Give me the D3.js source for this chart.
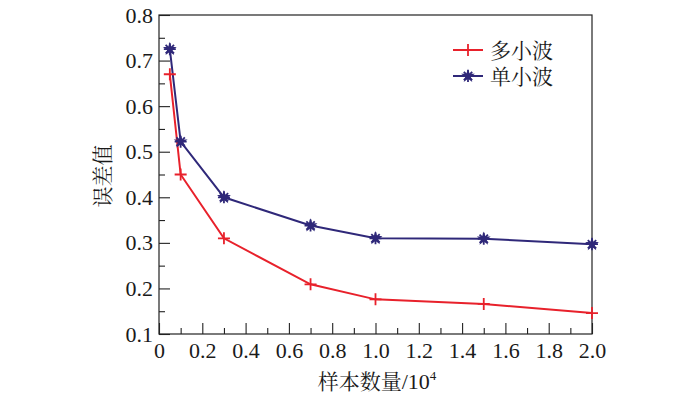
<!DOCTYPE html>
<html>
<head>
<meta charset="utf-8">
<script src="https://cdn.jsdelivr.net/npm/d3@7"></script>
<style>
	body { margin: 0; background: #fff; }
	svg { display: block; }
</style>
</head>
<body>
<figure id="chart" style="margin:0"></figure>
<script>
// values
var sampleCounts = [ 0.05, 0.1, 0.3, 0.7, 1.0, 1.5, 2.0 ]; // x, in 10^4
var multiWavelet = [ 0.670, 0.450, 0.310, 0.209, 0.176, 0.166, 0.146 ];
var singleWavelet = [ 0.725, 0.522, 0.400, 0.338, 0.310, 0.309, 0.297 ];
var seriesNames = [ "多小波", "单小波" ];
var xTicks = [ 0, 0.2, 0.4, 0.6, 0.8, 1.0, 1.2, 1.4, 1.6, 1.8, 2.0 ];
var yTicks = [ 0.1, 0.2, 0.3, 0.4, 0.5, 0.6, 0.7, 0.8 ];

var serifFont = "'Liberation Serif'";
var cjkFont = "'Noto Serif CJK SC'";

var dimensions = {
	width: 700,
	height: 396,
	margin: { top: 15, right: 108, bottom: 62, left: 159 }
};
dimensions.boundedWidth = dimensions.width - dimensions.margin.left - dimensions.margin.right
dimensions.boundedHeight = dimensions.height - dimensions.margin.top - dimensions.margin.bottom

var svgRoot = d3.select( "figure#chart" )
	.append( "svg" )
	.attr( "width", dimensions.width )
	.attr( "height", dimensions.height );

var svg = svgRoot.append( "g" )
	.attr( "transform", `translate(${dimensions.margin.left},${dimensions.margin.top})` );

var xScale = d3.scaleLinear().domain( [ 0, 2.0 ] ).range( [ 0, dimensions.boundedWidth ] );
var yScale = d3.scaleLinear().domain( [ 0.1, 0.8 ] ).range( [ dimensions.boundedHeight, 0 ] );

var colors = [ "#e8212b", "#2f2879" ];

// frame
svg.append( "rect" )
	.attr( "width", dimensions.boundedWidth )
	.attr( "height", dimensions.boundedHeight )
	.attr( "fill", "none" )
	.attr( "stroke", "#222" )
	.attr( "stroke-width", 1.2 );

// minor ticks (inward)
svg.append( "g" )
	.attr( "transform", `translate(0, ${dimensions.boundedHeight})` )
	.call( d3.axisBottom( xScale ).tickValues( d3.range( 0.1, 2.0, 0.2 ) ).tickSize( -6 ).tickFormat( "" ) )
	.call( g => g.select( ".domain" ).remove() );
svg.append( "g" )
	.call( d3.axisLeft( yScale ).tickValues( d3.range( 0.15, 0.8, 0.1 ) ).tickSize( -6 ).tickFormat( "" ) )
	.call( g => g.select( ".domain" ).remove() );

// major ticks with labels
var xAxis = svg.append( "g" )
	.attr( "transform", `translate(0, ${dimensions.boundedHeight})` )
	.call( d3.axisBottom( xScale ).tickValues( xTicks ).tickSize( -11 ).tickPadding( 5 )
		.tickFormat( d => d === 0 ? "0" : d3.format( ".1f" )( d ) ) )
	.attr( "font-family", serifFont )
	.attr( "font-size", 22 )
	.call( g => g.select( ".domain" ).remove() );
xAxis.selectAll( "text" ).attr( "dy", "0.85em" );

var yAxis = svg.append( "g" )
	.call( d3.axisLeft( yScale ).tickValues( yTicks ).tickSize( -11 ).tickPadding( 6 ).tickFormat( d3.format( ".1f" ) ) )
	.attr( "font-family", serifFont )
	.attr( "font-size", 22 )
	.call( g => g.select( ".domain" ).remove() );

svg.selectAll( ".tick line" ).attr( "stroke", "#222" ).attr( "stroke-width", 1.1 );
svg.selectAll( ".tick text" ).attr( "fill", "#1a1a1a" );

// lines
var series = [ multiWavelet, singleWavelet ];
var line = d3.line()
	.x( ( d, i ) => xScale( sampleCounts[ i ] ) )
	.y( d => yScale( d ) );

series.forEach( function( values, s ) {
	svg.append( "path" )
		.datum( values )
		.attr( "d", line )
		.attr( "fill", "none" )
		.attr( "stroke", colors[ s ] )
		.attr( "stroke-width", 2 );
} );

// markers
function plusMarker( g, color ) {
	g.append( "path" )
		.attr( "d", "M-6,0H6M0,-6V6" )
		.attr( "stroke", color )
		.attr( "stroke-width", 1.8 );
}
function starMarker( g, color ) {
	g.append( "path" )
		.attr( "d", d3.symbol( d3.symbolStar, 60 )() )
		.attr( "fill", color );
	g.append( "path" )
		.attr( "d", "M-6,0H6M0,-6V6M-4.2,-4.2L4.2,4.2M-4.2,4.2L4.2,-4.2" )
		.attr( "stroke", color )
		.attr( "stroke-width", 1.8 );
}
var markers = [ plusMarker, starMarker ];

series.forEach( function( values, s ) {
	svg.selectAll( null )
		.data( values )
		.enter()
		.append( "g" )
		.attr( "transform", ( d, i ) => `translate(${xScale( sampleCounts[ i ] )},${yScale( d )})` )
		.each( function() { markers[ s ]( d3.select( this ), colors[ s ] ); } );
} );

// legend
var legend = svg.append( "g" )
	.attr( "transform", "translate(294, 35)" );
seriesNames.forEach( function( name, s ) {
	var row = legend.append( "g" ).attr( "transform", `translate(0, ${s * 26})` );
	row.append( "line" )
		.attr( "x1", 0 ).attr( "x2", 30 )
		.attr( "stroke", colors[ s ] ).attr( "stroke-width", 2 );
	markers[ s ]( row.append( "g" ).attr( "transform", "translate(15,0)" ), colors[ s ] );
	row.append( "text" )
		.attr( "x", 37 )
		.attr( "dy", "0.36em" )
		.style( "font-family", cjkFont )
		.style( "font-size", "21px" )
		.style( "fill", "#1a1a1a" )
		.text( name );
} );

// axis titles
svgRoot.append( "text" )
	.attr( "transform", "translate(110, 176) rotate(-90)" )
	.attr( "text-anchor", "middle" )
	.style( "font-family", cjkFont )
	.style( "font-size", "21px" )
	.style( "fill", "#1a1a1a" )
	.text( "误差值" );

var xTitle = svgRoot.append( "text" )
	.attr( "x", 377 )
	.attr( "y", 389 )
	.attr( "text-anchor", "middle" )
	.style( "font-family", cjkFont )
	.style( "font-size", "21px" )
	.style( "fill", "#1a1a1a" );
xTitle.append( "tspan" ).text( "样本数量" );
xTitle.append( "tspan" ).style( "font-family", serifFont ).style( "font-size", "22px" ).text( "/10" );
xTitle.append( "tspan" ).attr( "dy", -9 ).style( "font-family", serifFont ).style( "font-size", "13px" ).text( "4" );
</script>
</body>
</html>
